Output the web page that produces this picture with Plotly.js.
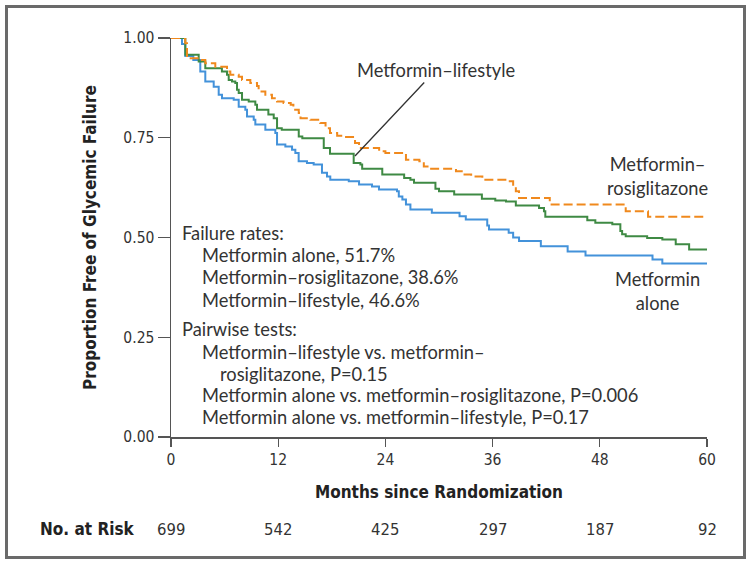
<!DOCTYPE html>
<html>
<head>
<meta charset="utf-8">
<script src="https://cdn.plot.ly/plotly-3.0.1.min.js"></script>
<style>
  html, body { margin: 0; padding: 0; background: #ffffff; }
  #wrap { position: relative; width: 750px; height: 565px; }
  #chart { position: absolute; left: 0; top: 0; width: 750px; height: 565px; }
  #frame { position: absolute; left: 5px; top: 5px; width: 735px; height: 548px;
           border: 3px solid #6a6a6a; pointer-events: none; }
</style>
</head>
<body>
<div id="wrap">
  <div id="chart"></div>
  <div id="frame"></div>
</div>
<script>
// ---------------- data ----------------
const aloneMonths = [0, 1.23, 1.6, 2.5, 3.28, 3.84, 4.78, 5.34, 5.71, 7.02, 7.58, 8.32, 8.51, 9.26, 9.44, 10.56, 11.68, 11.87, 12.8, 13.55, 13.92, 14.29, 15.22, 15.97, 16.9, 17.46, 17.83, 19.9, 21.05, 22.5, 23.28, 25.3, 25.5, 25.9, 26.3, 26.8, 29.2, 32.3, 33.0, 35.4, 35.6, 37.8, 38.3, 38.96, 41.4, 44.4, 46.4, 53.9, 55.0, 60];
const aloneSurv   = [1.0, 0.985, 0.955, 0.945, 0.916, 0.891, 0.878, 0.858, 0.849, 0.845, 0.828, 0.82, 0.803, 0.795, 0.783, 0.77, 0.762, 0.733, 0.728, 0.72, 0.712, 0.691, 0.687, 0.683, 0.662, 0.653, 0.645, 0.641, 0.633, 0.628, 0.62, 0.616, 0.603, 0.595, 0.583, 0.57, 0.562, 0.553, 0.545, 0.53, 0.52, 0.512, 0.50, 0.491, 0.478, 0.465, 0.455, 0.445, 0.435, 0.435];

const rosiMonths = [0, 1.6, 1.79, 3.47, 3.84, 4.96, 6.27, 6.64, 7.58, 7.95, 8.88, 9.63, 9.81, 10.56, 11.3, 11.87, 12.6, 13.4, 13.7, 14.3, 14.5, 15.6, 16.7, 17.3, 17.8, 18.6, 19.3, 20.6, 21.05, 23.3, 24.0, 26.3, 27.8, 28.3, 28.9, 31.9, 32.7, 33.6, 34.85, 37.6, 38.3, 38.6, 38.96, 42.4, 50.9, 53.4, 60];
const rosiSurv   = [1.0, 0.987, 0.949, 0.945, 0.937, 0.928, 0.916, 0.908, 0.903, 0.895, 0.887, 0.88, 0.866, 0.858, 0.849, 0.841, 0.837, 0.833, 0.82, 0.812, 0.799, 0.795, 0.787, 0.774, 0.762, 0.755, 0.752, 0.737, 0.724, 0.716, 0.712, 0.695, 0.691, 0.678, 0.672, 0.666, 0.658, 0.653, 0.645, 0.641, 0.628, 0.616, 0.599, 0.583, 0.566, 0.552, 0.552];

const lifeMonths = [0, 1.6, 3.1, 3.84, 5.7, 6.27, 6.46, 6.83, 7.2, 7.39, 7.58, 7.95, 8.7, 9.44, 9.63, 10.9, 11.5, 11.87, 12.4, 14.3, 14.7, 17.1, 17.8, 20.45, 21.2, 21.4, 23.65, 26.1, 26.8, 27.2, 29.6, 30.0, 31.7, 34.8, 36.3, 37.5, 38.6, 41.2, 41.75, 41.9, 46.6, 47.5, 49.4, 50.3, 50.5, 50.9, 53.3, 55.0, 56.5, 58.0, 60];
const lifeSurv   = [1.0, 0.958, 0.941, 0.924, 0.916, 0.908, 0.895, 0.891, 0.887, 0.87, 0.862, 0.845, 0.841, 0.833, 0.82, 0.808, 0.799, 0.774, 0.77, 0.753, 0.749, 0.724, 0.71, 0.687, 0.683, 0.672, 0.658, 0.649, 0.645, 0.637, 0.622, 0.616, 0.608, 0.597, 0.593, 0.59, 0.58, 0.574, 0.566, 0.552, 0.543, 0.537, 0.533, 0.516, 0.508, 0.503, 0.499, 0.495, 0.483, 0.47, 0.47];

const xTickVals = [0, 12, 24, 36, 48, 60];
const yTickVals = [0, 0.25, 0.5, 0.75, 1.0];
const riskMonths = [0, 12, 24, 36, 48, 60];
const riskCounts = [699, 542, 425, 297, 187, 92];

const failureHeader = "Failure rates:";
const failureLines = ["Metformin alone, 51.7%", "Metformin\u2013rosiglitazone, 38.6%", "Metformin\u2013lifestyle, 46.6%"];
const pairwiseHeader = "Pairwise tests:";
const pairwiseLines = ["Metformin\u2013lifestyle vs. metformin\u2013", "rosiglitazone, P=0.15", "Metformin alone vs. metformin\u2013rosiglitazone, P=0.006", "Metformin alone vs. metformin\u2013lifestyle, P=0.17"];
const pairwiseIndent = [1, 2, 1, 1];

// ---------------- layout helpers ----------------
const L = 171, R = 707, T = 38, B = 437;
const px2p = px => (px - L) / (R - L);   // pixel -> paper x
const py2p = py => (B - py) / (B - T);   // pixel -> paper y

const textFont = { family: "Lato, 'Open Sans', sans-serif", size: 18.3, color: "#333333" };
const condFont = { family: "'DejaVu Sans Condensed', 'DejaVu Sans', sans-serif", size: 15.5, color: "#333333" };
const riskFont = { family: "'DejaVu Sans Condensed', 'DejaVu Sans', sans-serif", size: 16.5, color: "#333333" };
const condBold = { family: "'DejaVu Sans Condensed', 'DejaVu Sans', sans-serif", size: 17, color: "#222222", weight: "bold" };

const traces = [
  { x: aloneMonths, y: aloneSurv, name: "Metformin alone", type: "scatter", mode: "lines",
    line: { shape: "hv", color: "#4392da", width: 2 }, cliponaxis: false },
  { x: lifeMonths, y: lifeSurv, name: "Metformin\u2013lifestyle", type: "scatter", mode: "lines",
    line: { shape: "hv", color: "#3f8a44", width: 2 }, cliponaxis: false },
  { x: rosiMonths, y: rosiSurv, name: "Metformin\u2013rosiglitazone", type: "scatter", mode: "lines",
    line: { shape: "hv", color: "#f0891d", width: 2, dash: "9px,4px" }, cliponaxis: false }
];

const ann = (px, py, text, extra) => Object.assign({ x: px2p(px), y: py2p(py), xref: "paper", yref: "paper",
  text: text, showarrow: false, xanchor: "left", yanchor: "middle", font: textFont }, extra || {});

const annotations = [];
annotations.push(ann(180, 233, failureHeader));
failureLines.forEach((t, i) => annotations.push(ann(200, 255 + 22.3 * i, t)));
annotations.push(ann(180, 329, pairwiseHeader));
pairwiseLines.forEach((t, i) => annotations.push(ann(pairwiseIndent[i] === 2 ? 218 : 200, 352 + 21.7 * i, t)));
annotations.push(ann(657, 176, "Metformin\u2013<br>rosiglitazone", { xanchor: "center", align: "center" }));
annotations.push(ann(657, 291, "Metformin<br>alone", { xanchor: "center", align: "center" }));
annotations.push({ x: px2p(355), y: py2p(156), xref: "paper", yref: "paper", text: "Metformin\u2013lifestyle",
  showarrow: true, arrowhead: 0, arrowwidth: 1.3, arrowcolor: "#333333",
  axref: "pixel", ayref: "pixel", ax: 436 - 355, ay: 70 - 156, standoff: 0, startstandoff: 0, font: textFont });
annotations.push(ann(38, 529, "No. at Risk", { font: condBold }));
riskMonths.forEach((m, i) => annotations.push({ x: m / 60, y: py2p(529), xref: "paper", yref: "paper",
  text: String(riskCounts[i]), showarrow: false, xanchor: "center", yanchor: "middle", font: riskFont }));

const layout = {
  width: 750, height: 565,
  margin: { l: L, r: 750 - R, t: T, b: 565 - B },
  paper_bgcolor: "#ffffff", plot_bgcolor: "#ffffff",
  showlegend: false,
  xaxis: {
    range: [0, 60], tickvals: xTickVals, ticktext: xTickVals.map(String),
    ticks: "outside", ticklen: 8, tickwidth: 1.3, tickcolor: "#555555",
    showline: true, linecolor: "#555555", linewidth: 1.5, showgrid: false, zeroline: false,
    tickfont: condFont, fixedrange: true,
    title: { text: "Months since Randomization", font: condBold, standoff: 18 }
  },
  yaxis: {
    range: [0, 1], tickvals: yTickVals, tickformat: ".2f",
    ticks: "outside", ticklen: 12, tickwidth: 1.3, tickcolor: "#555555",
    showline: true, linecolor: "#555555", linewidth: 1.5, showgrid: false, zeroline: false,
    tickfont: condFont, fixedrange: true,
    title: { text: "Proportion Free of Glycemic Failure", font: condBold, standoff: 22 }
  },
  annotations: annotations
};

Plotly.newPlot("chart", traces, layout, { displayModeBar: false, staticPlot: true });
</script>
</body>
</html>
